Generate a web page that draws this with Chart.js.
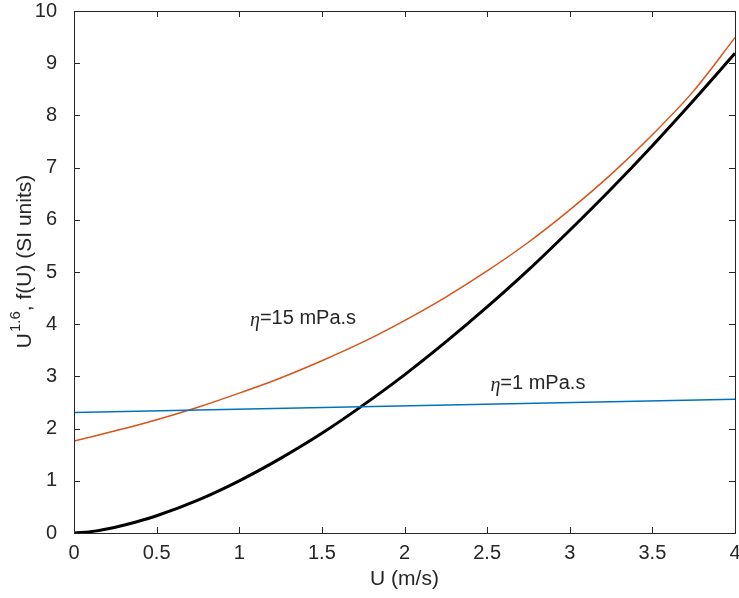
<!DOCTYPE html>
<html>
<head>
<meta charset="utf-8">
<script src="https://cdn.jsdelivr.net/npm/chart.js@4"></script>
<style>
  body { margin: 0; background: #fff; }
  #box { width: 739px; height: 598px; }
</style>
</head>
<body>
<div id="box"><canvas id="grafico"></canvas></div>
<script>
// Datos
const velocidades = [0, 0.125, 0.25, 0.375, 0.5, 0.75, 1, 1.25, 1.5, 1.75, 2, 2.25, 2.5, 2.75, 3, 3.25, 3.5, 3.75, 4];
const potencia = [0, 0.036, 0.11, 0.21, 0.33, 0.63, 1.0, 1.43, 1.91, 2.45, 3.03, 3.66, 4.33, 5.04, 5.8, 6.59, 7.42, 8.29, 9.19];
const viscosidad15 = [1.76, 1.86, 1.96, 2.06, 2.17, 2.41, 2.68, 2.97, 3.30, 3.66, 4.07, 4.52, 5.02, 5.57, 6.19, 6.87, 7.63, 8.47, 9.49];
const velocidadesRecta = [0, 4];
const viscosidad1 = [2.31, 2.56];

const ticksX = [0, 0.5, 1, 1.5, 2, 2.5, 3, 3.5, 4];
const ticksY = [0, 1, 2, 3, 4, 5, 6, 7, 8, 9, 10];

const etiquetas = [
  { u: 1.065, v: 4.1, texto: "=15 mPa.s" },
  { u: 2.52, v: 2.86, texto: "=1 mPa.s" }
];

const colorTexto = "#262626";
const fuente = "'Liberation Sans', Arial, sans-serif";

const puntos = (xs, ys) => xs.map((u, i) => ({ x: u, y: ys[i] }));

// Marcas hacia adentro, caja, títulos de ejes y etiquetas
const adornos = {
  id: "adornos",
  afterDraw(chart) {
    const ctx = chart.ctx;
    const area = chart.chartArea;
    const sx = chart.scales.x;
    const sy = chart.scales.y;
    ctx.save();
    ctx.strokeStyle = colorTexto;
    ctx.lineWidth = 1;
    ctx.beginPath();
    ticksX.forEach((t) => {
      const px = Math.round(sx.getPixelForValue(t)) + 0.5;
      ctx.moveTo(px, area.bottom); ctx.lineTo(px, area.bottom - 6);
      ctx.moveTo(px, area.top); ctx.lineTo(px, area.top + 6);
    });
    ticksY.forEach((t) => {
      const py = Math.round(sy.getPixelForValue(t)) + 0.5;
      ctx.moveTo(area.left, py); ctx.lineTo(area.left + 6, py);
      ctx.moveTo(area.right, py); ctx.lineTo(area.right - 6, py);
    });
    ctx.stroke();
    ctx.strokeRect(Math.round(area.left) + 0.5, Math.round(area.top) + 0.5,
      Math.round(area.right - area.left), Math.round(area.bottom - area.top));

    // título eje x
    ctx.fillStyle = colorTexto;
    ctx.font = "21px " + fuente;
    ctx.textAlign = "center";
    ctx.textBaseline = "middle";
    ctx.fillText("U (m/s)", (area.left + area.right) / 2, 579);

    // título eje y con superíndice
    ctx.save();
    ctx.translate(25, 262);
    ctx.rotate(-Math.PI / 2);
    ctx.textAlign = "left";
    ctx.textBaseline = "middle";
    const p1 = "U", p2 = "1.6", p3 = ", f(U) (SI units)";
    ctx.font = "21px " + fuente;
    const w1 = ctx.measureText(p1).width;
    const w3 = ctx.measureText(p3).width;
    ctx.font = "15px " + fuente;
    const w2 = ctx.measureText(p2).width;
    let x0 = -(w1 + w2 + w3) / 2;
    ctx.font = "21px " + fuente;
    ctx.fillText(p1, x0, 0);
    ctx.font = "15px " + fuente;
    ctx.fillText(p2, x0 + w1 + 1, -9);
    ctx.font = "21px " + fuente;
    ctx.fillText(p3, x0 + w1 + w2 + 1, 0);
    ctx.restore();

    // etiquetas de viscosidad
    etiquetas.forEach((e) => {
      const px = sx.getPixelForValue(e.u);
      const py = sy.getPixelForValue(e.v);
      ctx.textAlign = "left";
      ctx.textBaseline = "middle";
      ctx.font = "italic 20px 'Liberation Serif', serif";
      ctx.fillText("\u03B7", px, py + 2);
      const we = ctx.measureText("\u03B7").width;
      ctx.font = "20px " + fuente;
      ctx.fillText(e.texto, px + we, py);
    });
    ctx.restore();
  }
};

const grafico = document.getElementById("grafico");
const chart = new Chart(grafico.getContext("2d"), {
  type: "line",
  data: {
    datasets: [
      { data: puntos(velocidadesRecta, viscosidad1), borderColor: "#0072BD", borderWidth: 1.5 },
      { data: puntos(velocidades, viscosidad15), borderColor: "#D95319", borderWidth: 1.5 },
      { data: puntos(velocidades, potencia), borderColor: "#000000", borderWidth: 3 }
    ]
  },
  options: {
    responsive: true,
    maintainAspectRatio: false,
    animation: false,
    layout: { padding: { top: 11, right: 4, left: 0, bottom: 0 } },
    elements: {
      point: { radius: 0 },
      line: { cubicInterpolationMode: "monotone", fill: false }
    },
    plugins: {
      legend: { display: false },
      tooltip: { enabled: false }
    },
    scales: {
      x: {
        type: "linear",
        min: 0, max: 4,
        afterFit: (s) => { s.height = 65; s.paddingLeft = 0; s.paddingRight = 0; },
        afterBuildTicks: (s) => { s.ticks = ticksX.map((v) => ({ value: v })); },
        grid: { display: false },
        border: { display: false },
        ticks: {
          color: colorTexto, font: { size: 20, family: fuente }, padding: 0,
          maxRotation: 0,
          callback: (v) => String(v)
        }
      },
      y: {
        type: "linear",
        min: 0, max: 10,
        afterFit: (s) => { s.width = 74; s.paddingTop = 0; s.paddingBottom = 0; },
        afterBuildTicks: (s) => { s.ticks = ticksY.map((v) => ({ value: v })); },
        grid: { display: false },
        border: { display: false },
        ticks: {
          color: colorTexto, font: { size: 20, family: fuente }, padding: 9,
          callback: (v) => String(v)
        }
      }
    }
  },
  plugins: [adornos]
});
</script>
</body>
</html>
